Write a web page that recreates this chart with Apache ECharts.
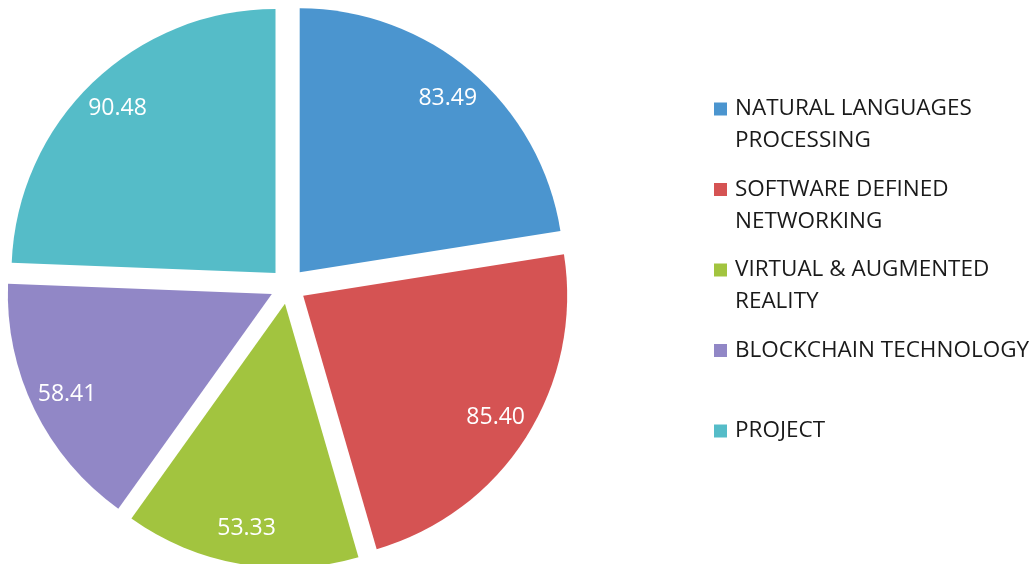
<!DOCTYPE html>
<html>
<head>
<meta charset="utf-8">
<script src="https://cdn.jsdelivr.net/npm/echarts@6/dist/echarts.min.js"></script>
<style>
  html, body { margin: 0; padding: 0; background: #fff; }
  #main { width: 1035px; height: 564px; }
</style>
</head>
<body>
<div id="main"></div>
<script>
// 数据
var categories = ['NATURAL LANGUAGES PROCESSING', 'SOFTWARE DEFINED NETWORKING', 'VIRTUAL & AUGMENTED REALITY', 'BLOCKCHAIN TECHNOLOGY', 'PROJECT'];
var legendLines = ['NATURAL LANGUAGES\nPROCESSING', 'SOFTWARE DEFINED\nNETWORKING', 'VIRTUAL & AUGMENTED\nREALITY', 'BLOCKCHAIN TECHNOLOGY\n ', 'PROJECT\n '];
var values = [83.49, 85.40, 53.33, 58.41, 90.48];
var colors = ['#4b95cf', '#d55353', '#a2c43f', '#9187c6', '#55bcc8'];

var myChart = echarts.init(document.getElementById('main'));

var pieData = categories.map(function (name, i) {
    return { name: name, value: values[i], selected: true };
});

var option = {
    backgroundColor: '#fff',
    color: colors,
    animation: false,
    legend: {
        orient: 'vertical',
        left: 714,
        top: 61,
        padding: 0,
        icon: 'rect',
        itemWidth: 13,
        itemHeight: 13,
        itemGap: -15.5,
        selectedMode: false,
        data: categories,
        // 前面空一行，让色块对齐第一行文字
        formatter: function (name) {
            return ' \n' + legendLines[categories.indexOf(name)];
        },
        textStyle: {
            fontFamily: 'Open Sans',
            fontSize: 22.5,
            color: '#1a1a1a',
            lineHeight: 32,
            padding: [0, 0, 0, 3]
        }
    },
    series: [
        {
            type: 'pie',
            center: [288, 286],
            radius: [0, 264],
            startAngle: 90,
            clockwise: true,
            selectedMode: 'multiple',
            selectedOffset: 18,
            label: { show: false },
            labelLine: { show: false },
            itemStyle: { borderWidth: 0 },
            emphasis: { disabled: true },
            data: pieData
        },
        {
            // 只用来放数值标签
            type: 'pie',
            center: [288, 286],
            radius: [186, 264],
            startAngle: 90,
            clockwise: true,
            selectedMode: 'multiple',
            selectedOffset: 18,
            silent: true,
            itemStyle: { color: 'transparent', borderWidth: 0 },
            label: {
                show: true,
                position: 'inside',
                color: '#fff',
                fontFamily: 'Open Sans',
                fontSize: 23,
                formatter: function (p) { return p.value.toFixed(2); }
            },
            labelLine: { show: false },
            emphasis: { disabled: true },
            data: pieData
        }
    ]
};

myChart.setOption(option);
</script>
</body>
</html>
